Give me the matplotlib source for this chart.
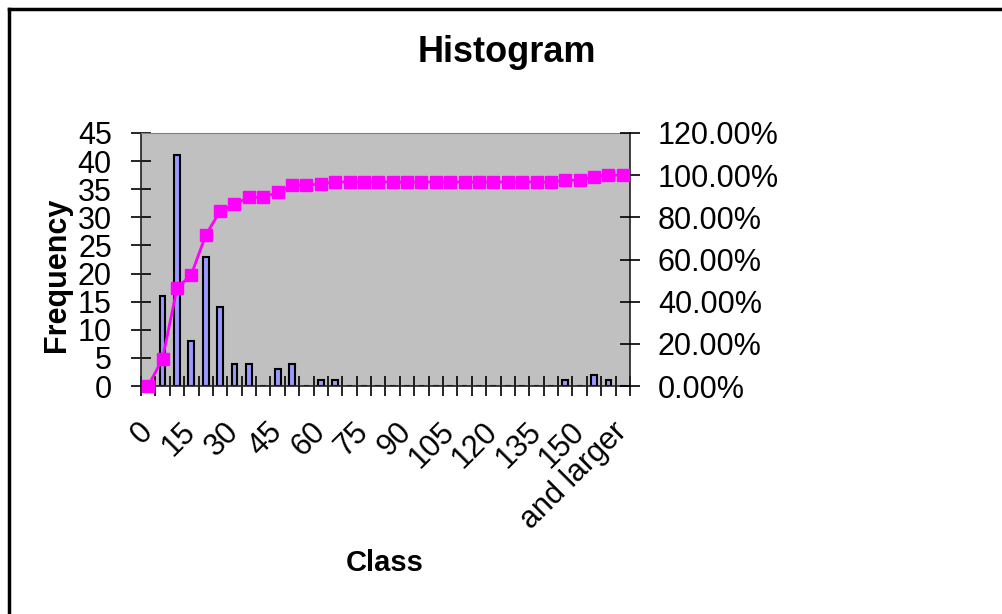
import numpy as np
from matplotlib import pyplot as plt
from matplotlib.lines import Line2D

plt.rcParams["font.family"] = ["Liberation Sans", "DejaVu Sans"]

# histogram bins (upper edges) and counts
bins = [str(b) for b in range(0, 165, 5)] + ["and larger"]
counts = [0, 16, 41, 8, 23, 14, 4, 4, 0, 3, 4, 0, 1, 1,
          0, 0, 0, 0, 0, 0, 0, 0, 0, 0, 0, 0, 0, 0, 0,
          1, 0, 2, 1, 0]
freq_ticks = list(range(0, 50, 5))
pct_ticks = [0.0, 0.2, 0.4, 0.6, 0.8, 1.0, 1.2]

cumulative = np.cumsum(counts) / np.sum(counts)
x = np.arange(len(bins))

fig = plt.figure(figsize=(10.03, 6.14), dpi=100)
ax = fig.add_axes([141 / 1003, 1 - 386 / 614, 489 / 1003, 253 / 614])
ax.set_facecolor("#c0c0c0")

ax.bar(x, counts, width=0.4, color="#9999ff", edgecolor="black", linewidth=1.5, zorder=2)
ax.set_xlim(-0.5, len(bins) - 0.5)
ax.set_ylim(0, 45)
ax.set_yticks(freq_ticks)
ax.set_yticklabels([str(t) for t in freq_ticks])
ax.tick_params(axis="y", direction="inout", length=14, width=1.2, pad=14, labelsize=22)

# tick marks between the classes, labels on every third class
ax.set_xticks(np.arange(-0.5, len(bins), 1.0))
ax.set_xticklabels([])
ax.tick_params(axis="x", which="major", direction="inout", length=14, width=1.2)
ax.set_xticks(x[::3], minor=True)
ax.set_xticklabels(bins[::3], minor=True, rotation=45, ha="right", va="center",
                   rotation_mode="anchor", fontsize=22)
ax.tick_params(axis="x", which="minor", length=0, pad=30)

for side in ["left", "bottom", "right"]:
    ax.spines[side].set_color("#202020")
    ax.spines[side].set_linewidth(1.2)
ax.spines["top"].set_color("#808080")

ax2 = ax.twinx()
ax2.plot(x, cumulative, "-s", color="#ff00ff", linewidth=2, markersize=9,
         markeredgecolor="#ff00ff", clip_on=False, zorder=3)
ax2.set_ylim(0, 1.2)
ax2.set_yticks(pct_ticks)
ax2.set_yticklabels([f"{p * 100:.2f}%" for p in pct_ticks])
ax2.tick_params(axis="y", direction="inout", length=14, width=1.2, pad=13, labelsize=22)
for side in ["left", "bottom", "right", "top"]:
    ax2.spines[side].set_visible(False)

fig.text(507 / 1003, 1 - 53 / 614, "Histogram", ha="center", va="center",
         fontsize=26, fontweight="bold")
fig.text(57 / 1003, 1 - 275 / 614, "Frequency", ha="center", va="center",
         rotation=90, fontsize=22, fontweight="bold")
fig.text(385 / 1003, 1 - 563 / 614, "Class", ha="center", va="center",
         fontsize=21, fontweight="bold")

# outer frame, top and left edges only
fig.add_artist(Line2D([9 / 1003, 1], [1 - 9 / 614, 1 - 9 / 614], color="black", linewidth=2.5))
fig.add_artist(Line2D([9 / 1003, 9 / 1003], [0, 1 - 9 / 614], color="black", linewidth=2.5))

fig.savefig("out.png", dpi=100)
